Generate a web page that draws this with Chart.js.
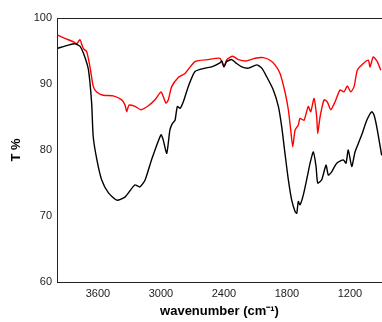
<!DOCTYPE html>
<html><head><meta charset="utf-8">
<script src="https://cdn.jsdelivr.net/npm/chart.js@4/dist/chart.umd.min.js"></script>
<style>html,body{margin:0;padding:0;background:#fff}canvas{display:block}</style>
</head><body>
<canvas id="c" width="382" height="322"></canvas>
<script>
// wavenumber (cm-1) and transmittance (%)
const blackWn = [3985,3880,3820,3770,3725,3690,3660,3645,3610,3565,3500,3420,3340,3250,3200,3150,3090,3000,2978,2945,2915,2892,2866,2844,2818,2787,2740,2676,2580,2517,2438,2420,2400,2374,2326,2279,2231,2168,2088,2040,1993,1930,1882,1850,1819,1787,1755,1723,1707,1692,1676,1644,1606,1580,1549,1523,1507,1469,1428,1406,1374,1326,1263,1238,1216,1183,1152,1120,1088,1040,993,971,945,898];
const blackT  = [95.4,95.9,96.1,95.7,94.1,92.1,87.1,82.0,78.5,75.5,73.5,72.4,72.9,74.7,74.4,75.5,78.5,82.3,81.5,79.5,83.0,84.0,84.5,86.6,86.3,87.3,89.6,91.9,92.4,92.6,93.2,93.5,92.6,93.4,93.7,93.1,92.6,92.4,92.9,92.4,91.1,89.1,86.6,83.5,79.5,75.5,72.4,70.7,70.4,72.2,71.7,73.2,76.0,78.0,79.7,77.5,75.0,75.5,77.7,76.2,76.7,78.0,78.5,78.0,80.0,77.5,79.7,81.0,82.3,84.5,85.8,85.3,83.5,79.2];
const redWn = [3985,3914,3835,3802,3771,3740,3707,3676,3644,3612,3549,3454,3374,3342,3326,3304,3247,3190,3120,3057,3000,2978,2952,2930,2898,2835,2771,2676,2549,2438,2400,2374,2317,2263,2183,2104,2025,1961,1914,1866,1819,1787,1764,1745,1723,1692,1676,1638,1597,1574,1542,1517,1507,1485,1447,1416,1383,1342,1295,1257,1225,1193,1161,1130,1073,1025,1009,978,940,907];
const redT  = [97.4,96.9,96.4,96.1,96.7,95.4,94.9,92.6,89.6,88.8,88.3,88.2,87.6,86.8,85.8,86.8,86.6,86.1,86.7,87.6,88.8,88.1,87.1,87.6,89.6,91.0,91.6,93.4,93.7,93.9,92.6,93.7,94.2,93.7,93.5,93.9,94.0,93.6,92.9,91.6,88.8,86.1,83.0,80.5,83.0,83.8,84.8,84.5,86.6,85.8,87.8,85.0,82.5,85.0,87.6,87.3,86.1,87.3,89.1,88.8,89.7,88.8,89.6,92.1,93.1,93.6,92.6,94.1,93.4,92.1];
const xTicks = [3600,3000,2400,1800,1200];
const yTicks = [60,70,80,90,100];

const toPts = (xs, ys) => xs.map((x, i) => ({x: x, y: ys[i]}));
const FONT = "'Liberation Sans', Arial, sans-serif";

const topFrame = {
  id: 'topFrame',
  afterDraw(chart) {
    const a = chart.chartArea, c = chart.ctx;
    c.save(); c.strokeStyle = '#222'; c.lineWidth = 1;
    c.beginPath(); c.moveTo(a.left, Math.round(a.top) + 0.5); c.lineTo(a.right, Math.round(a.top) + 0.5); c.stroke();
    c.restore();
  }
};

new Chart(document.getElementById('c'), {
  type: 'line',
  data: { datasets: [
    { data: toPts(blackWn, blackT), borderColor: '#000', borderWidth: 1.4, pointRadius: 0, tension: 0.2, fill: false },
    { data: toPts(redWn, redT), borderColor: '#ff0000', borderWidth: 1.4, pointRadius: 0, tension: 0.2, fill: false }
  ]},
  options: {
    responsive: false, animation: false, devicePixelRatio: 1,
    layout: { padding: { left: 0, right: 0, top: 18, bottom: 0 } },
    plugins: { legend: { display: false }, tooltip: { enabled: false } },
    scales: {
      x: {
        type: 'linear', reverse: true, min: 895, max: 3990,
        grid: { display: false, drawTicks: false },
        border: { display: true, color: '#222', width: 1 },
        afterBuildTicks: s => { s.ticks = xTicks.map(v => ({ value: v })); },
        ticks: { color: '#222', font: { family: FONT, size: 11 }, padding: 5, maxRotation: 0, callback: v => String(v) },
        title: { display: true, text: 'wavenumber (cm⁻¹)', color: '#000', font: { family: FONT, size: 13, weight: 'bold' }, padding: { top: 4, bottom: 3 } },
        afterFit: s => { s.height = 40; }
      },
      y: {
        min: 60, max: 100,
        grid: { display: false, drawTicks: false },
        border: { display: true, color: '#222', width: 1 },
        afterBuildTicks: s => { s.ticks = yTicks.map(v => ({ value: v })); },
        ticks: { color: '#222', font: { family: FONT, size: 11 }, padding: 5, callback: v => String(v) },
        title: { display: true, text: 'T %', color: '#000', font: { family: FONT, size: 13, weight: 'bold' }, padding: { top: 9, bottom: 0 } },
        afterFit: s => { s.width = 57; }
      }
    }
  },
  plugins: [topFrame]
});
</script>
</body></html>
